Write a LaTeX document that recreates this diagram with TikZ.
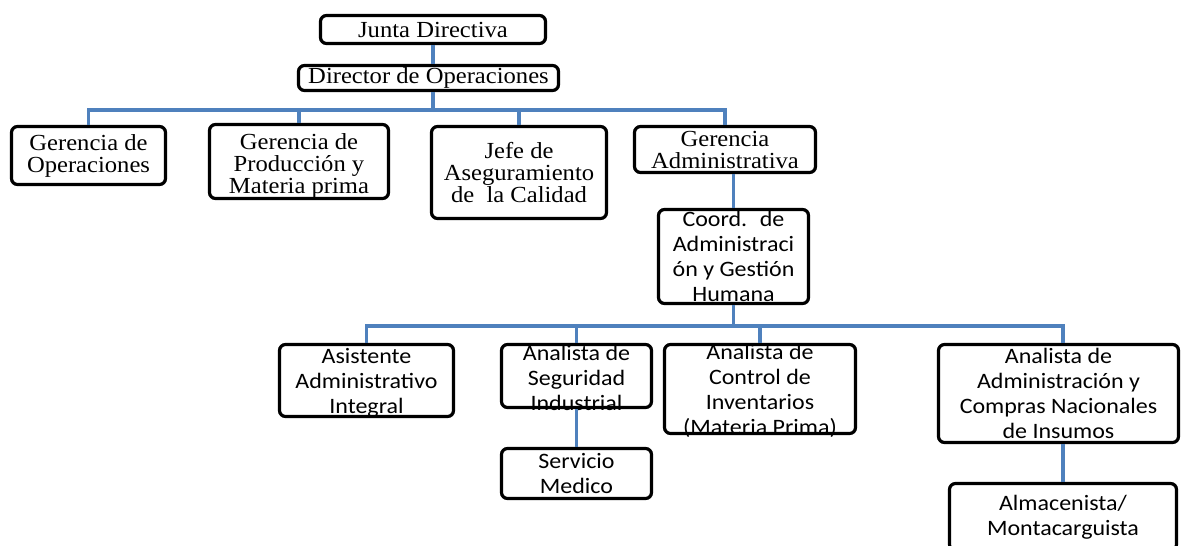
\documentclass[tikz,border=0pt]{standalone}
\usepackage{fontspec}
\newfontfamily\trfont[FakeStretch=1.07]{Liberation Serif}
\newfontfamily\cbfont[FakeStretch=1.09]{Carlito}
\definecolor{linkblue}{RGB}{79,129,189}
\begin{document}
\begin{tikzpicture}[x=1pt,y=-1pt,
  frame/.style={draw=black, line width=3.2pt, rounded corners=6pt, inner sep=0pt, fill=white},
  slab/.style={inner sep=0pt, align=center, font=\trfont\fontsize{23}{22}\selectfont},
  clab/.style={inner sep=0pt, align=center, font=\cbfont\fontsize{22}{25}\selectfont},
  link/.style={draw=linkblue, line width=3.5pt}]
\useasboundingbox (0,0) rectangle (1181,546);
\coordinate (busA) at (0,110);
\coordinate (busB) at (0,326);
% boxes
\node[frame, minimum width=225, minimum height=28] (jd) at (433,29.5) {};
\node[frame, minimum width=260, minimum height=25] (dir) at (428.5,78) {};
\node[frame, minimum width=154, minimum height=58] (gop) at (88.5,155.5) {};
\node[frame, minimum width=179, minimum height=74] (gpm) at (299,161.5) {};
\node[frame, minimum width=175, minimum height=92] (jac) at (519,172.5) {};
\node[frame, minimum width=181, minimum height=46] (ga) at (725,149.5) {};
\node[frame, minimum width=150, minimum height=94] (coord) at (733.5,256.5) {};
\node[frame, minimum width=174, minimum height=72] (asi) at (366.5,380.5) {};
\node[frame, minimum width=150, minimum height=63] (seg) at (576.5,376) {};
\node[frame, minimum width=191, minimum height=89] (ctl) at (760,389) {};
\node[frame, minimum width=240, minimum height=98] (ana) at (1058.5,393.5) {};
\node[frame, minimum width=150, minimum height=50] (ser) at (576.5,473.5) {};
\node[frame, minimum width=227, minimum height=67] (alm) at (1063,517) {};
% texts
\node[slab] (jdT) at (jd) {Junta Directiva};
\node[slab] (dirT) at (dir) {Director de Operaciones};
\node[slab] (gopT) at (gop) {Gerencia de\\Operaciones};
\node[slab] (gpmT) at ([yshift=-4]gpm.center) {Gerencia de\\Producción y\\Materia prima};
\node[slab] (jacT) at (jac) {Jefe de\\Aseguramiento\\de~ la Calidad};
\node[slab] (gaT) at (ga) {Gerencia\\Administrativa};
\node[clab] (coordT) at (coord) {Coord.~ de\\Administraci\\ón y Gestión\\Humana};
\node[clab] (asiT) at ([yshift=-2]asi.center) {Asistente\\Administrativo\\Integral};
\node[clab] (segT) at ([yshift=-2]seg.center) {Analista de\\Seguridad\\Industrial};
\node[clab] (ctlT) at ([yshift=-2]ctl.center) {Analista de\\Control de\\Inventarios\\(Materia Prima)};
\node[clab] (anaT) at (ana) {Analista de\\Administración y\\Compras Nacionales\\de Insumos};
\node[clab] (serT) at (ser) {Servicio\\Medico};
\node[clab] (almT) at (alm) {Almacenista/\\Montacarguista};
% connectors
\draw[link] (jd.south) -- (jd.south |- dir.north);
\draw[link] (jd.south |- dir.south) -- (jd.south |- busA);
\draw[link] (gop.north) -- (gop.north |- busA) -- (ga.north |- busA) -- (ga.north);
\draw[link] (gpm.north) -- (gpm.north |- busA);
\draw[link] (jac.north) -- (jac.north |- busA);
\draw[link] (coord.north |- ga.south) -- (coord.north);
\draw[link] (coord.south) -- (coord.south |- busB);
\draw[link] (asi.north) -- (asi.north |- busB) -- (alm.north |- busB) -- (alm.north |- ana.north);
\draw[link] (seg.north) -- (seg.north |- busB);
\draw[link] (ctl.north) -- (ctl.north |- busB);
\draw[link] (seg.south) -- (ser.north);
\draw[link] (alm.north |- ana.south) -- (alm.north);
\end{tikzpicture}
\end{document}
